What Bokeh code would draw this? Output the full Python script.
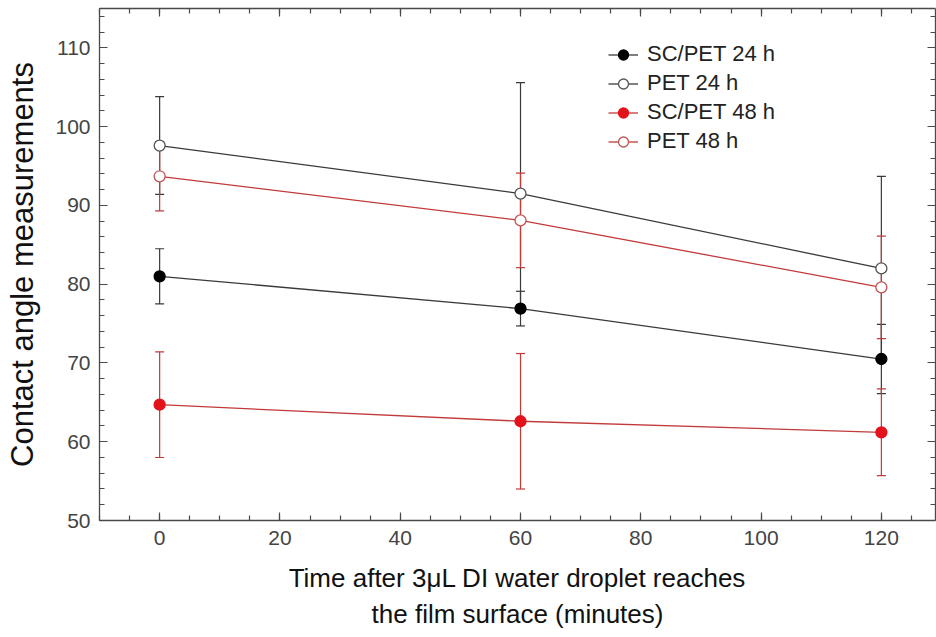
from bokeh.plotting import figure
from bokeh.models import (LinearAxis, SingleIntervalTicker, Whisker, ColumnDataSource,
                          Range1d, Legend, LegendItem, TeeHead, CustomJSTickFormatter)
from bokeh.embed import file_html
from bokeh.resources import INLINE

# ---- data ----
time_min = [0, 60, 120]
sc_pet_24 = [81.0, 76.9, 70.5]
sc_pet_24_err = [3.5, 2.2, 4.4]
pet_24 = [97.6, 91.5, 82.0]
pet_24_err = [6.2, 14.1, 11.7]
sc_pet_48 = [64.7, 62.6, 61.2]
sc_pet_48_err = [6.7, 8.6, 5.5]
pet_48 = [93.7, 88.1, 79.6]
pet_48_err = [4.4, 6.0, 6.5]
series_names = ["SC/PET 24 h", "PET 24 h", "SC/PET 48 h", "PET 48 h"]
x_label = "Time after 3\u03bcL DI water droplet reaches\nthe film surface (minutes)"
y_label = "Contact angle measurements"

FONT = "Liberation Sans"
AX = "#4a4a4a"

p = figure(width=936, height=637, x_range=Range1d(-10, 129), y_range=Range1d(50, 115),
           output_backend="svg", toolbar_location=None,
           min_border_left=99, min_border_right=1, min_border_top=8, min_border_bottom=117)
p.grid.visible = False
p.outline_line_color = None
p.background_fill_color = "white"
p.border_fill_color = "white"

p.xaxis.ticker = SingleIntervalTicker(interval=20, num_minor_ticks=4)
p.yaxis.ticker = SingleIntervalTicker(interval=10, num_minor_ticks=5)

def style_axis(ax, labels=True):
    ax.axis_line_color = AX
    ax.axis_line_width = 1.3
    ax.major_tick_line_color = AX
    ax.minor_tick_line_color = AX
    ax.major_tick_in = 8
    ax.major_tick_out = 0
    ax.minor_tick_in = 5
    ax.minor_tick_out = 0
    ax.major_tick_line_width = 1.2
    ax.minor_tick_line_width = 1.2
    if labels:
        ax.major_label_text_font = FONT
        ax.major_label_text_font_size = "21px"
        ax.major_label_text_color = "#444444"
        ax.major_label_standoff = 10
        ax.axis_label_text_font = FONT
        ax.axis_label_text_font_style = "normal"
        ax.axis_label_text_color = "#111111"
    else:
        ax.formatter = CustomJSTickFormatter(code="return ''")
        ax.major_label_standoff = 0

for ax in p.xaxis:
    style_axis(ax)
    ax.axis_label = x_label
    ax.axis_label_text_font_size = "26px"
    ax.axis_label_standoff = 15
for ax in p.yaxis:
    style_axis(ax)
    ax.major_label_standoff = 9
    ax.axis_label = y_label
    ax.axis_label_text_font_size = "31px"
    ax.axis_label_standoff = 12

top = LinearAxis(ticker=SingleIntervalTicker(interval=20, num_minor_ticks=4))
style_axis(top, labels=False)
p.add_layout(top, "above")
right = LinearAxis(ticker=SingleIntervalTicker(interval=10, num_minor_ticks=5))
style_axis(right, labels=False)
p.add_layout(right, "right")

BLACK_LINE = "#3a3a3a"
RED_LINE = "#c23a3a"
RED_FILL = "#e3121b"

specs = [
    (series_names[0], sc_pet_24, sc_pet_24_err, BLACK_LINE, "#000000", "#000000"),
    (series_names[1], pet_24, pet_24_err, BLACK_LINE, "#555555", "white"),
    (series_names[2], sc_pet_48, sc_pet_48_err, RED_LINE, RED_FILL, RED_FILL),
    (series_names[3], pet_48, pet_48_err, RED_LINE, "#c45454", "white"),
]

items = []
for name, ys, errs, lc, mc, fc in specs:
    src = ColumnDataSource(dict(x=time_min, y=ys,
                                lower=[v - e for v, e in zip(ys, errs)],
                                upper=[v + e for v, e in zip(ys, errs)]))
    w = Whisker(source=src, base="x", lower="lower", upper="upper",
                line_color=lc, line_width=1.2,
                upper_head=TeeHead(size=9, line_color=lc, line_width=1.2),
                lower_head=TeeHead(size=9, line_color=lc, line_width=1.2))
    p.add_layout(w)
    r_line = p.line("x", "y", source=src, line_color=lc, line_width=1.3)
    r_pt = p.scatter("x", "y", source=src, marker="circle", size=11,
                     line_color=mc, fill_color=fc, line_width=1.3)
    items.append(LegendItem(label=name, renderers=[r_line, r_pt]))

legend = Legend(items=items, location=(509, 366))
legend.label_text_font = FONT
legend.label_text_font_size = "22px"
legend.label_text_color = "#222222"
legend.glyph_width = 30
legend.glyph_height = 25
legend.label_height = 25
legend.label_standoff = 9
legend.spacing = 3
legend.padding = 0
legend.margin = 0
legend.border_line_color = None
legend.background_fill_alpha = 0
p.add_layout(legend, "center")

open("out.html", "w").write(file_html(p, INLINE))
